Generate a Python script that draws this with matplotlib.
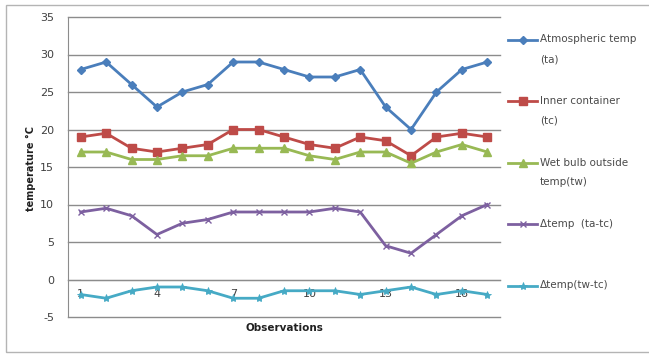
import matplotlib
matplotlib.use("Agg")
import matplotlib.pyplot as plt
from matplotlib.lines import Line2D
from matplotlib.patches import Rectangle

plt.rcParams['font.family'] = ['DejaVu Sans']
plt.rcParams['axes.unicode_minus'] = False

observations = list(range(1, 18))
atmospheric = [28, 29, 26, 23, 25, 26, 29, 29, 28, 27, 27, 28, 23, 20, 25, 28, 29]
inner = [19, 19.5, 17.5, 17, 17.5, 18, 20, 20, 19, 18, 17.5, 19, 18.5, 16.5, 19, 19.5, 19]
wet_bulb = [17, 17, 16, 16, 16.5, 16.5, 17.5, 17.5, 17.5, 16.5, 16, 17, 17, 15.5, 17, 18, 17]
delta_ta_tc = [9, 9.5, 8.5, 6, 7.5, 8, 9, 9, 9, 9, 9.5, 9, 4.5, 3.5, 6, 8.5, 10]
delta_tw_tc = [-2, -2.5, -1.5, -1, -1, -1.5, -2.5, -2.5, -1.5, -1.5, -1.5, -2, -1.5, -1, -2, -1.5, -2]

series_labels = ["Atmospheric temp\n(ta)", "Inner container\n(tc)",
                 "Wet bulb outside\ntemp(tw)", "\u0394temp  (ta-tc)", "\u0394temp(tw-tc)"]
x_ticks = [1, 4, 7, 10, 13, 16]
y_ticks = list(range(-5, 40, 5))

W, H = 649, 354
fig = plt.figure(figsize=(W / 100, H / 100), dpi=100)
fig.patch.set_facecolor('white')

# chart frame
fig.add_artist(Rectangle((6 / W, 1 - 352 / H), (W + 20) / W, (352 - 5) / H,
                         transform=fig.transFigure, fill=False,
                         edgecolor='#b4b4b4', lw=1.0))

ax = fig.add_axes([68 / W, 1 - 317 / H, 432 / W, 300 / H])

styles = [
    dict(color='#4A7EBB', marker='D', ms=4.5),
    dict(color='#BE4B48', marker='s', ms=6),
    dict(color='#98B954', marker='^', ms=6),
    dict(color='#7D60A0', marker='x', ms=5, mew=1.0),
    dict(color='#46AAC5', marker='*', ms=6, mew=0.6),
]
series = [atmospheric, inner, wet_bulb, delta_ta_tc, delta_tw_tc]

for vals, st in zip(series, styles):
    ax.plot(observations, vals, lw=2.0, solid_joinstyle='round', zorder=3, **st)

ax.set_xlim(0.5, 17.5)
ax.set_ylim(-5, 35)
ax.set_yticks(y_ticks)
for yv in y_ticks:
    ax.axhline(yv, color='#8c8c8c', lw=1.0, zorder=1, clip_on=False)

for s in ['top', 'right']:
    ax.spines[s].set_visible(False)
ax.spines['left'].set_color('#8c8c8c')
ax.spines['bottom'].set_position(('data', 0))
ax.spines['bottom'].set_color('#8c8c8c')

ax.set_xticks(x_ticks)
ax.tick_params(axis='x', length=0, pad=7, labelsize=8, labelcolor='#404040')
ax.tick_params(axis='y', length=0, pad=10, labelsize=8, labelcolor='#404040')

fig.text(284 / W, 1 - 328 / H, "Observations", ha='center', va='center',
         fontsize=7.5, fontweight='bold', color='#202020')
fig.text(31 / W, 1 - 168 / H, "temperature \u00b0C", ha='center', va='center',
         rotation=90, fontsize=7, fontweight='bold', color='#202020')

# legend
leg_y = [40, 101, 163, 224, 286]
for yy, lab, st in zip(leg_y, series_labels, styles):
    yf = 1 - yy / H
    line_st = {k: v for k, v in st.items() if k == 'color'}
    fig.add_artist(Line2D([508 / W, 537 / W], [yf, yf], transform=fig.transFigure,
                          lw=2.0, **line_st))
    fig.add_artist(Line2D([522.5 / W], [yf], transform=fig.transFigure,
                          lw=0, **st))
    fig.text(540 / W, yf + 5.5 / H, lab, ha='left', va='top', fontsize=7.5,
             color='#4a4a4a', linespacing=2.2)

fig.savefig("out.png", dpi=100)
